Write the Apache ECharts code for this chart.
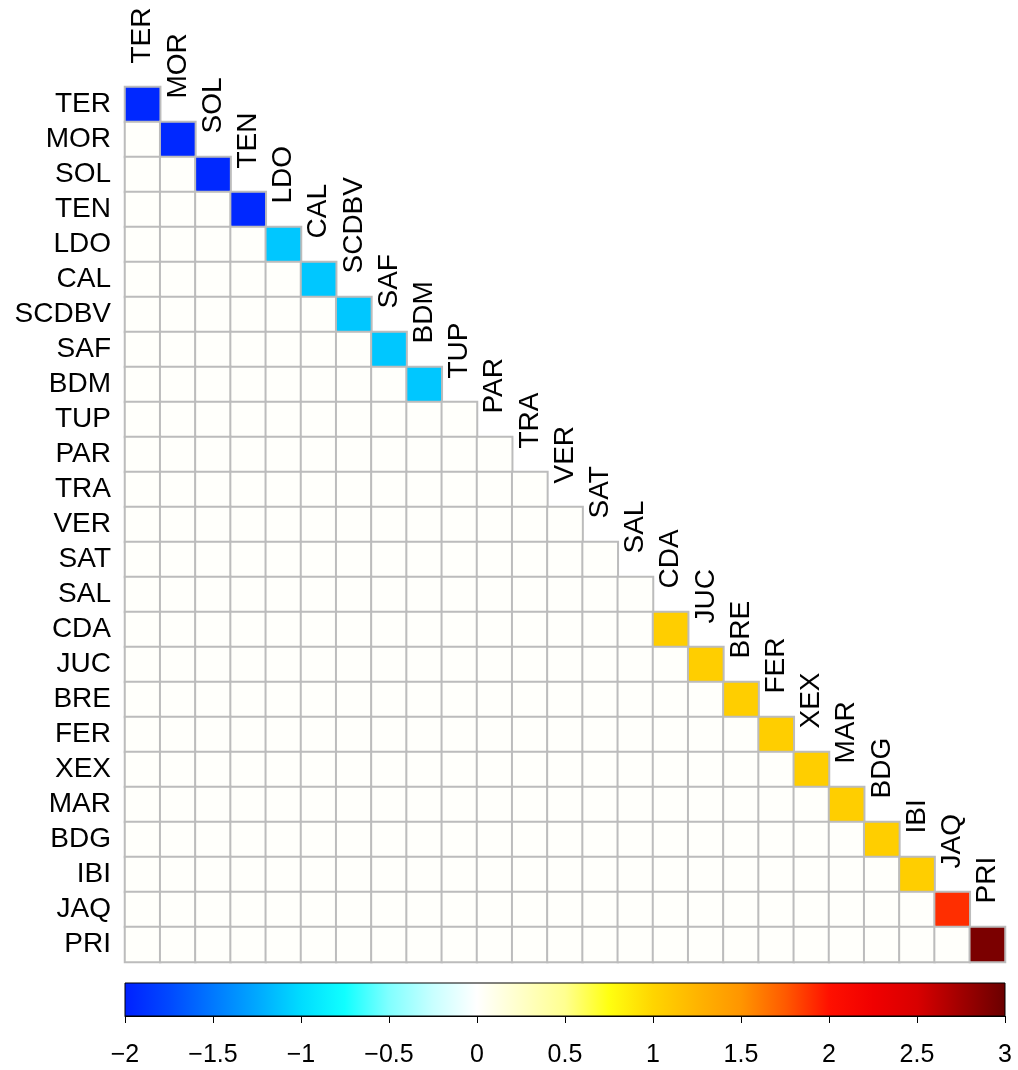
<!DOCTYPE html>
<html>
<head>
<meta charset="utf-8">
<script src="https://cdn.jsdelivr.net/npm/echarts@6/dist/echarts.min.js"></script>
<style>html,body{margin:0;padding:0;background:#fff;}#c{width:1018px;height:1070px;}</style>
</head>
<body>
<div id="c"></div>
<script>
// Categories (rows top to bottom, columns left to right)
const categories = ['TER','MOR','SOL','TEN','LDO','CAL','SCDBV','SAF','BDM','TUP','PAR','TRA','VER','SAT','SAL','CDA','JUC','BRE','FER','XEX','MAR','BDG','IBI','JAQ','PRI'];
const diagonalValues = [-1.95,-1.95,-1.95,-1.95,-1.1,-1.1,-1.1,-1.1,-1.1,0.02,0.02,0.02,0.02,0.02,0.02,1.05,1.05,1.05,1.05,1.05,1.05,1.05,1.05,1.9,2.92];
// Off-diagonal (lower triangle) value
const offDiagonalValue = 0.02;
// Colour scale range and tick labels
const scaleMin = -2, scaleMax = 3, scaleStep = 0.5;
const scaleColors = ['#0020ff','#0048ff','#0078ff','#00a8ff','#00dcff','#10ffff','#80ffff','#c8ffff','#ffffff','#ffffc8','#ffff90','#ffff10','#ffd500','#ffb400','#ff9500','#ff5a00','#ff1000','#f00000','#d80000','#a00000','#6a0000'];

const n = categories.length;
const cells = [];
for (let r = 0; r < n; r++) {
  for (let c = 0; c <= r; c++) {
    cells.push([c, r, r === c ? diagonalValues[r] : offDiagonalValue]);
  }
}
const labelPts = categories.map((_, i) => [i, i]);

const chart = echarts.init(document.getElementById('c'), null, {renderer: 'canvas'});
const fontFam = '"Liberation Sans", Arial, sans-serif';
const gradStops = scaleColors.map((col, i) => ({offset: i / (scaleColors.length - 1), color: col}));

chart.setOption({
  backgroundColor: '#ffffff',
  animation: false,
  grid: [
    {left: 125, top: 87, width: 880, height: 875},
    {left: 125, top: 983, width: 880, height: 33}
  ],
  xAxis: [
    {type: 'category', gridIndex: 0, data: categories, axisLine: {show: false}, axisTick: {show: false}, axisLabel: {show: false}, splitLine: {show: false}},
    {type: 'value', gridIndex: 1, min: scaleMin, max: scaleMax, interval: scaleStep,
     axisLine: {show: true, lineStyle: {color: '#000', width: 1}},
     axisTick: {show: true, length: 7, lineStyle: {color: '#000', width: 1}},
     splitLine: {show: false},
     axisLabel: {margin: 27, fontSize: 25, color: '#000', fontFamily: fontFam,
       formatter: v => String(v).replace('-', '\u2212')}}
  ],
  yAxis: [
    {type: 'category', gridIndex: 0, data: categories, inverse: true, axisLine: {show: false}, axisTick: {show: false},
     axisLabel: {interval: 0, fontSize: 28, color: '#000', fontFamily: fontFam, margin: 14}, splitLine: {show: false}},
    {type: 'value', gridIndex: 1, min: 0, max: 1, show: false}
  ],
  visualMap: {
    show: false, type: 'continuous', min: scaleMin, max: scaleMax, seriesIndex: 0, dimension: 2,
    inRange: {color: scaleColors}
  },
  series: [
    {type: 'heatmap', xAxisIndex: 0, yAxisIndex: 0, data: cells, z: 3,
     itemStyle: {borderColor: '#bcbcbc', borderWidth: 2}, emphasis: {disabled: true}},
    {type: 'scatter', xAxisIndex: 0, yAxisIndex: 0, data: labelPts, symbol: 'rect', symbolSize: 30,
     itemStyle: {color: '#ffffff', opacity: 1}, silent: true, z: 1,
     labelLayout: {hideOverlap: false},
     label: {show: true, position: 'top', distance: 26, rotate: 90, align: 'left', verticalAlign: 'middle',
       fontSize: 28, color: '#000000', opacity: 1, fontFamily: fontFam,
       formatter: p => categories[p.dataIndex]}},
    {type: 'custom', xAxisIndex: 1, yAxisIndex: 1, data: [[scaleMin, scaleMax]], silent: true,
     renderItem: function (params, api) {
       const p0 = api.coord([api.value(0), 1]);
       const p1 = api.coord([api.value(1), 0]);
       return {type: 'rect', shape: {x: p0[0], y: p0[1], width: p1[0] - p0[0], height: p1[1] - p0[1]},
         style: {fill: new echarts.graphic.LinearGradient(0, 0, 1, 0, gradStops), stroke: '#000', lineWidth: 1}};
     }}
  ]
});
</script>
</body>
</html>
